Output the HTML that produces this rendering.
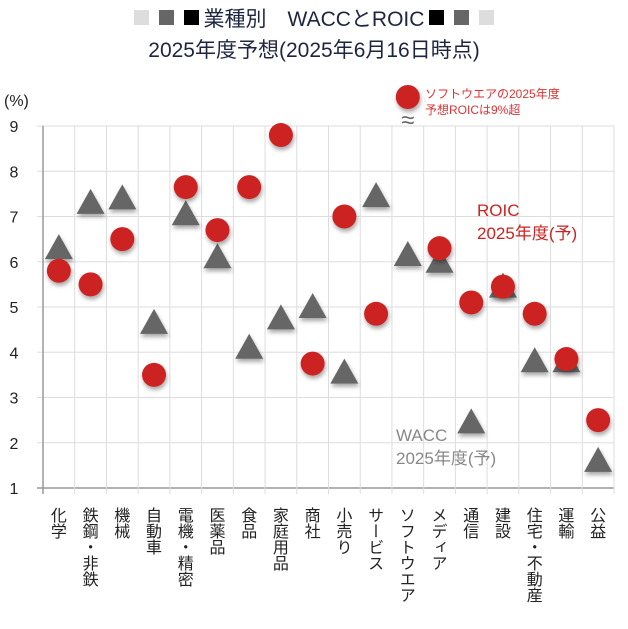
<!DOCTYPE html>
<html><head><meta charset="utf-8">
<style>
body{margin:0;background:#fff;width:628px;height:629px;overflow:hidden;font-family:"Liberation Sans","Noto Sans CJK JP",sans-serif}
.t{position:absolute;left:0;width:628px;text-align:center;color:#1e2540;font-size:21px}
.sq{display:inline-block;width:15px;height:15px;margin:0 5px;vertical-align:1px}
</style></head><body>
<div class="t" style="top:3px"><span class="sq" style="background:#ddd"></span><span class="sq" style="background:#666"></span><span class="sq" style="background:#000"></span>業種別　WACCとROIC<span class="sq" style="background:#000"></span><span class="sq" style="background:#666"></span><span class="sq" style="background:#ddd"></span></div>
<div class="t" style="top:34px">2025年度予想(2025年6月16日時点)</div>
<svg id="c" width="628" height="629" style="position:absolute;left:0;top:0">
<defs><filter id="sh" x="-50%" y="-50%" width="200%" height="200%"><feDropShadow dx="1" dy="3" stdDeviation="2" flood-color="#000" flood-opacity="0.35"/></filter></defs>
</svg>
<script>
const categories=["化学","鉄鋼・非鉄","機械","自動車","電機・精密","医薬品","食品","家庭用品","商社","小売り","サービス","ソフトウエア","メディア","通信","建設","住宅・不動産","運輸","公益"];
const roic=[5.8,5.5,6.5,3.5,7.65,6.7,7.65,8.8,3.75,7.0,4.85,9.5,6.3,5.1,5.45,4.85,3.85,2.5];
const wacc=[6.3,7.3,7.4,4.65,7.05,6.1,4.1,4.75,5.0,3.55,7.45,6.15,6.0,2.45,5.45,3.8,3.8,1.6];
const yTicks=[1,2,3,4,5,6,7,8,9];
const svg=document.getElementById('c');const NS='http://www.w3.org/2000/svg';
const X0=43,X1=614,Y1v=488,Y9v=126;
const bw=(X1-X0)/categories.length;
const xc=i=>X0+bw*(i+0.5);
const y=v=>Y1v-(v-1)*(Y1v-Y9v)/8;
function mk(tag,a){const e=document.createElementNS(NS,tag);for(const k in a)e.setAttribute(k,a[k]);svg.appendChild(e);return e;}
yTicks.forEach(t=>{
const l=mk('line',{x1:X0-6,x2:X1,y1:y(t),y2:y(t),stroke:t==1?'#999':'#ddd','stroke-width':t==1?1.5:1});


const tx=mk('text',{x:14,y:y(t)+6,'font-size':16,fill:'#222','text-anchor':'middle'});tx.textContent=t;


});
for(let i=0;i<=categories.length;i++){
const gx=X0+bw*i;
const l=mk('line',{x1:gx,x2:gx,y1:y(9),y2:y(1)+6,stroke:i==0?'#999':'#ddd','stroke-width':i==0?1.5:1});


}
const yt=mk('text',{x:4,y:106,'font-size':16,fill:'#222'});yt.textContent='(%)';


categories.forEach((c,i)=>{
const t=mk('text',{x:xc(i),y:507,'font-size':16,fill:'#222','writing-mode':'vertical-rl','font-family':'"Noto Sans CJK JP",sans-serif'});
t.textContent=c;


});
wacc.forEach((v,i)=>{
const cx=xc(i),cy=y(v);
const p=mk('polygon',{points:`${cx},${cy-14} ${cx-14},${cy+11} ${cx+14},${cy+11}`,fill:'#666',filter:'url(#sh)'});


});
roic.forEach((v,i)=>{
const cy=v>9?97:y(v);
const c=mk('circle',{cx:xc(i),cy:cy,r:12,fill:'#cc2222',filter:'url(#sh)'});


if(v>9){
const b=mk('text',{x:xc(i),y:128,'font-size':24,fill:'#666','text-anchor':'middle'});b.textContent='≈';


}
});
function lab(x,yy,s,col,sz,name){const t=mk('text',{x:x,y:yy,'font-size':sz,fill:col});t.textContent=s;}
lab(425,98,'ソフトウエアの2025年度','#d33',12,'software-note');
lab(425,114,'予想ROICは9%超','#d33',12,'software-note');
lab(477,216,'ROIC','#cc2222',17,'roic-label');
lab(477,239,'2025年度(予)','#cc2222',17,'roic-label');
lab(396,441,'WACC','#888',17,'wacc-label');
lab(396,464,'2025年度(予)','#888',17,'wacc-label');
</script>
</body></html>
